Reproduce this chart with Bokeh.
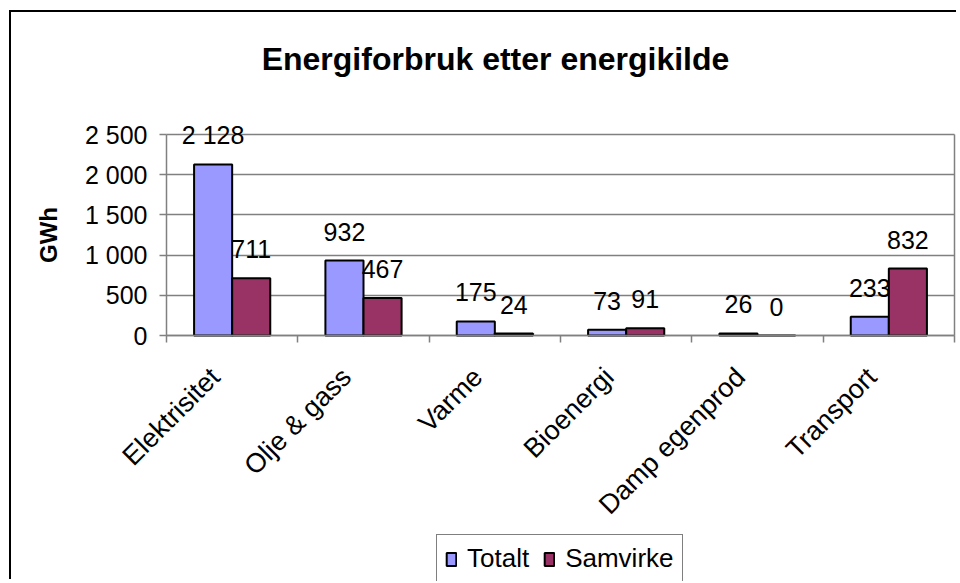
import math
from bokeh.plotting import figure
from bokeh.models import (Range1d, FixedTicker, Legend, LegendItem, ColumnDataSource,
                          LabelSet, Label, LinearAxis)
from bokeh.core.properties import value
from bokeh.embed import file_html
from bokeh.resources import INLINE

# ---- data ----
categories = ["Elektrisitet", "Olje & gass", "Varme", "Bioenergi", "Damp egenprod", "Transport"]
totalt = [2128, 932, 175, 73, 26, 233]
samvirke = [711, 467, 24, 91, 0, 832]
y_ticks = [0, 500, 1000, 1500, 2000, 2500]
y_tick_labels = ["0", "500", "1 000", "1 500", "2 000", "2 500"]
series_names = ["Totalt", "Samvirke"]
title_text = "Energiforbruk etter energikilde"
y_title = "GWh"

FONT = "Liberation Sans"
BAR_W = 0.29
GRAY = "#808080"

# layout (canvas pixels)
W, H = 947, 569
LEFT_PX = 155          # canvas x of the value axis
RIGHT_PX = 943         # canvas x of the plot area's right edge
TOP_PX = 122           # canvas y of the 2500 line
ZERO_PX = 323          # canvas y of the 0 line
LEGEND_LEFT_PX = 425
n = len(categories)
Y_MAX = y_ticks[-1]
PX_Y = (ZERO_PX - TOP_PX) / Y_MAX
PX_X = (RIGHT_PX - LEFT_PX) / n
Y_END = ZERO_PX / PX_Y
Y_START = -(H - ZERO_PX) / PX_Y
X_START = -LEFT_PX / PX_X
X_END = n + (W - RIGHT_PX) / PX_X
LABEL_SHIFT = -17 / PX_X   # category labels sit a little left of centre


def fmt(v):
    return f"{v:,}".replace(",", " ")


centers = [i + 0.5 for i in range(n)]
x_tot = [c - BAR_W / 2 for c in centers]
x_sam = [c + BAR_W / 2 for c in centers]

src_t = ColumnDataSource(dict(x=x_tot, top=totalt, lbl=[fmt(v) for v in totalt]))
src_s = ColumnDataSource(dict(x=x_sam, top=samvirke, lbl=[fmt(v) for v in samvirke]))

p = figure(width=W, height=H, output_backend="svg", toolbar_location=None,
           x_range=Range1d(X_START, X_END), y_range=Range1d(Y_START, Y_END),
           min_border_left=0, min_border_top=0, min_border_bottom=0,
           min_border_right=0,
           styles={"margin-left": "9px", "margin-top": "10px",
                   "border-left": "2px solid black", "border-top": "2px solid black"})
p.background_fill_color = "white"
p.border_fill_color = "white"
p.outline_line_color = None

r1 = p.vbar(x="x", top="top", bottom=0, width=BAR_W, source=src_t,
            fill_color="#9999FF", line_color="black", line_width=2)
r2 = p.vbar(x="x", top="top", bottom=0, width=BAR_W, source=src_s,
            fill_color="#993366", line_color="black", line_width=2)

# grid
p.xgrid.visible = False
p.ygrid.ticker = FixedTicker(ticks=y_ticks)
p.ygrid.cross_bounds = (0, n)
p.ygrid.grid_line_color = GRAY
p.ygrid.grid_line_width = 1.5

# y axis (drawn at x = 0)
ya = p.yaxis[0]
ya.fixed_location = 0
ya.bounds = (0, Y_MAX)
ya.ticker = FixedTicker(ticks=y_ticks)
ya.major_label_overrides = {t: l for t, l in zip(y_ticks, y_tick_labels)}
ya.major_tick_out = 7
ya.major_tick_in = 0
ya.minor_tick_line_color = None
ya.axis_line_color = GRAY
ya.axis_line_width = 1.5
ya.major_tick_line_color = GRAY
ya.major_tick_line_width = 1.5
ya.major_label_text_font = FONT
ya.major_label_text_font_size = "25px"
ya.major_label_text_color = "black"
ya.major_label_standoff = 12

# y axis title
p.add_layout(Label(x=0, y=Y_MAX / 2, x_offset=-118, angle=math.pi / 2, text=y_title,
                   text_align="center", text_baseline="middle", text_font=FONT,
                   text_font_size="24px", text_font_style="bold", text_color="black"))

# right border of the plot area
ra = LinearAxis(bounds=(0, Y_MAX), ticker=FixedTicker(ticks=[]), fixed_location=n,
                axis_line_color=GRAY, axis_line_width=1.5,
                major_tick_line_color=None, minor_tick_line_color=None,
                major_label_text_font_size="0px", major_label_standoff=0)
p.add_layout(ra, "right")

# x axis (drawn at y = 0)
xa = p.xaxis[0]
xa.fixed_location = 0
xa.bounds = (0, n)
label_pos = [c + LABEL_SHIFT for c in centers]
xa.ticker = FixedTicker(ticks=label_pos, minor_ticks=list(range(n + 1)))
xa.major_label_overrides = {c: cat for c, cat in zip(label_pos, categories)}
xa.major_tick_out = 0
xa.major_tick_in = 0
xa.minor_tick_out = 7
xa.minor_tick_in = 0
xa.minor_tick_line_color = GRAY
xa.minor_tick_line_width = 1.5
xa.axis_line_color = GRAY
xa.axis_line_width = 1.5
xa.major_label_orientation = math.pi / 4
xa.major_label_text_font = FONT
xa.major_label_text_font_size = "27px"
xa.major_label_text_color = "black"
xa.major_label_standoff = 30

# data labels
for src in (src_t, src_s):
    p.add_layout(LabelSet(x="x", y="top", text="lbl", source=src, y_offset=20,
                          text_align="center", text_baseline="alphabetic",
                          text_font=value(FONT), text_font_size=value("25px"),
                          text_color="black"))

# title
p.add_layout(Label(x=n / 2, y=Y_MAX, x_offset=-65, y_offset=76, text=title_text,
                   text_align="center", text_baseline="alphabetic", text_font=FONT,
                   text_font_size="32px", text_font_style="bold", text_color="black"))

# legend
legend = Legend(items=[LegendItem(label=series_names[0], renderers=[r1]),
                       LegendItem(label=series_names[1], renderers=[r2])],
                orientation="horizontal", location=(LEGEND_LEFT_PX, -2),
                border_line_color="black", border_line_width=1.5,
                background_fill_color="white", background_fill_alpha=1,
                label_text_font=FONT, label_text_font_size="26px",
                label_text_color="black", glyph_width=12, glyph_height=16,
                label_standoff=10, spacing=14, padding=8, margin=0)
p.add_layout(legend, "center")

open("out.html", "w").write(file_html(p, INLINE))
